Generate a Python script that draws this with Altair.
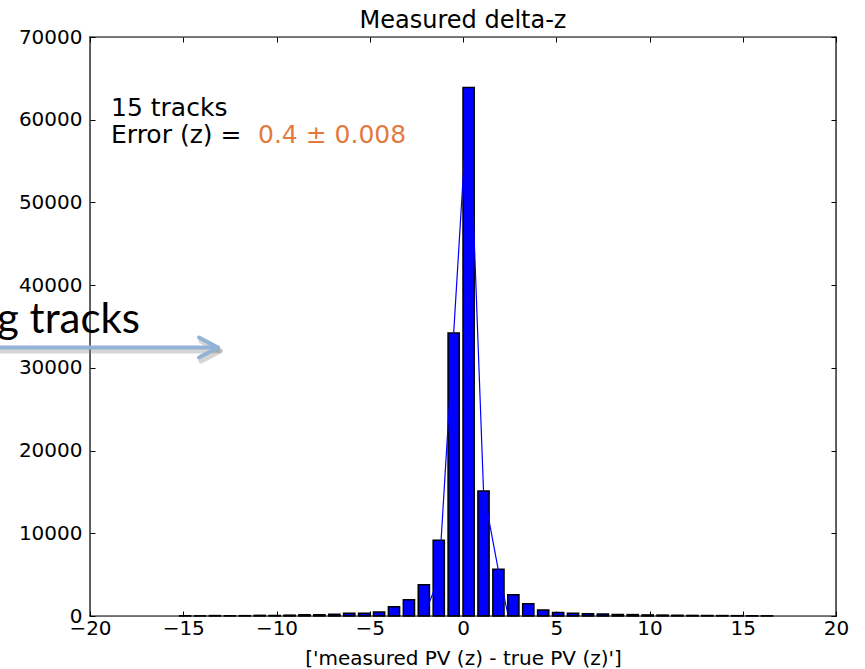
import altair as alt
import pandas as pd

# ---- data ----
bin_left = [-15.2, -14.4, -13.6, -12.8, -12.0, -11.2, -10.4, -9.6, -8.8, -8.0,
            -7.2, -6.4, -5.6, -4.8, -4.0, -3.2, -2.4, -1.6, -0.8, 0.0,
            0.8, 1.6, 2.4, 3.2, 4.0, 4.8, 5.6, 6.4, 7.2, 8.0,
            8.8, 9.6, 10.4, 11.2, 12.0, 12.8, 13.6, 14.4, 15.2, 16.0]
counts = [30, 20, 50, 30, 40, 80, 60, 100, 150, 150,
          220, 330, 330, 480, 1130, 1970, 3790, 9150, 34200, 63900,
          15100, 5650, 2580, 1490, 720, 420, 330, 280, 230, 190,
          170, 130, 110, 90, 70, 60, 50, 40, 30, 20]

fit_x = [-2.1, -1.3, -0.5, 0.3, 1.1, 1.9, 2.4]
fit_y = [0, 4500, 34200, 63900, 15100, 5500, 300]

x_ticks = [-20, -15, -10, -5, 0, 5, 10, 15, 20]
y_ticks = [0, 10000, 20000, 30000, 40000, 50000, 60000, 70000]

title_text = "Measured delta-z"
x_title = "['measured PV (z) - true PV (z)']"

bars_df = pd.DataFrame({"left": bin_left, "count": counts})
line_df = pd.DataFrame({"x": fit_x, "y": fit_y})
one = pd.DataFrame({"a": [0]})

xscale = alt.Scale(domain=[-20, 20], nice=False, zero=False)
yscale = alt.Scale(domain=[0, 70000], nice=False, zero=False)

common = dict(domain=False, grid=False, tickColor="black", tickSize=5, tickWidth=1,
              labelFont="DejaVu Sans", labelFontSize=20, labelColor="black", offset=-5)

bars = alt.Chart(bars_df).transform_calculate(
    right="datum.left + 0.6"
).mark_bar(color="#0000ff", stroke="black", strokeWidth=1.5).encode(
    x=alt.X("left:Q", scale=xscale,
            axis=alt.Axis(values=x_ticks, format="d", title=x_title,
                          titleFont="DejaVu Sans", titleFontSize=20,
                          titleFontWeight="normal", titleColor="black",
                          labelPadding=2, titlePadding=10, labelFlush=False, **common)),
    x2="right:Q",
    y=alt.Y("count:Q", scale=yscale,
            axis=alt.Axis(values=y_ticks, format="d", title=None, labelPadding=8, **common)),
    y2=alt.datum(0),
)

line = alt.Chart(line_df).mark_line(color="#0000ff", strokeWidth=1.2).encode(
    x=alt.X("x:Q", scale=xscale,
            axis=alt.Axis(orient="top", values=x_ticks, labels=False, title=None, **common)),
    y=alt.Y("y:Q", scale=yscale,
            axis=alt.Axis(orient="right", values=y_ticks, labels=False, title=None, **common)),
)

def txt(s, x, y, size, color="black", font="DejaVu Sans", align="left"):
    return alt.Chart(one).mark_text(
        text=s, align=align, baseline="alphabetic", font=font, fontSize=size, color=color
    ).encode(x=alt.value(x), y=alt.value(y))

def seg(x1, y1, x2, y2, color, width, opacity=1.0, cap="round"):
    return alt.Chart(one).mark_rule(
        color=color, strokeWidth=width, strokeCap=cap, opacity=opacity
    ).encode(x=alt.value(x1), x2=alt.value(x2), y=alt.value(y1), y2=alt.value(y2))

frame = [
    seg(0, 0, 746, 0, "black", 1.2, cap="square"),
    seg(0, 579, 746, 579, "black", 1.2, cap="square"),
    seg(0, 0, 0, 579, "black", 1.2, cap="square"),
    seg(746, 0, 746, 579, "black", 1.2, cap="square"),
]

ann = [
    txt(title_text, 373, -9, 24, align="center"),
    txt("15 tracks", 21, 79, 25),
    txt("Error (z) =", 21, 106, 25),
    txt("0.4 \u00b1 0.008", 168, 106, 25, color="#E37B40"),
    txt("g tracks", -93, 296, 42, font="Lato"),
    # arrow shadow
    seg(-90, 314, 127, 314, "#888888", 5, 0.35),
    seg(111, 304, 130, 314, "#888888", 5, 0.35),
    seg(111, 324, 130, 314, "#888888", 5, 0.35),
    # arrow
    seg(-90, 310.5, 124, 310.5, "#93B3D6", 4),
    seg(109, 300.5, 128, 310.5, "#93B3D6", 4),
    seg(109, 320.5, 128, 310.5, "#93B3D6", 4),
]

chart = alt.layer(bars, line, *frame, *ann).resolve_axis(
    x="independent", y="independent"
).properties(
    width=746, height=579,
    padding={"left": 90, "top": 37, "right": 29, "bottom": 53},
    autosize=alt.AutoSizeParams(type="none"),
).configure_view(stroke=None).configure(background="white")

chart.save("out.html", embed_options={"renderer": "svg", "actions": False})
